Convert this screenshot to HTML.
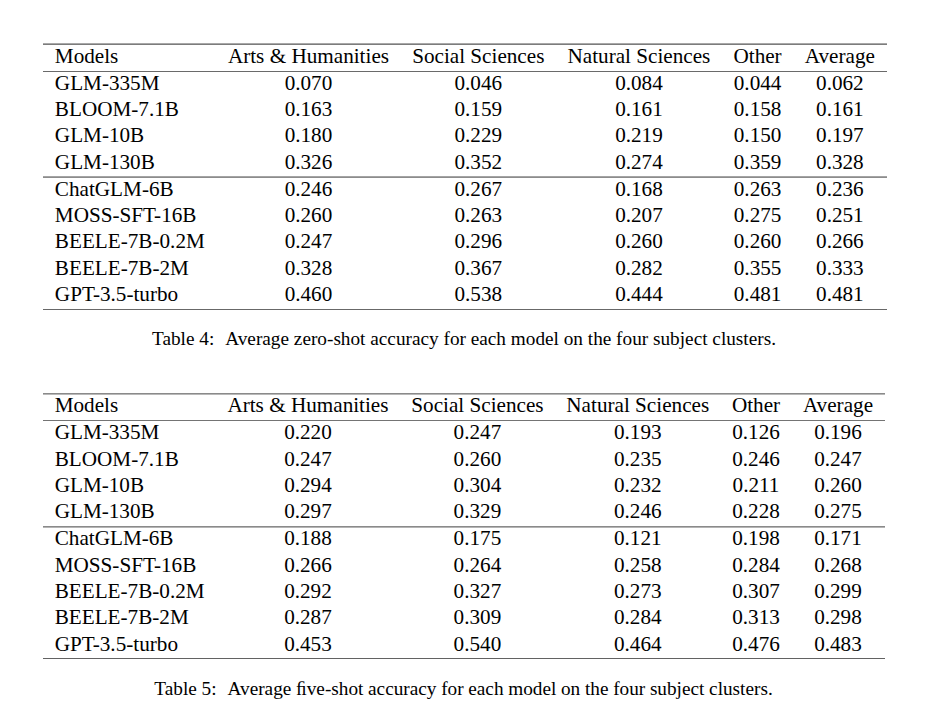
<!DOCTYPE html>
<html><head><meta charset="utf-8"><style>
html,body{margin:0;padding:0;background:#fff;}
body{width:925px;height:727px;position:relative;overflow:hidden;font-family:"Liberation Serif",serif;color:#000;}
.tb{position:absolute;height:727px;}
.rule{position:absolute;left:0;right:0;}
table{position:absolute;left:0;border-collapse:collapse;table-layout:fixed;font-size:21.18px;line-height:26px;white-space:nowrap;}
td{padding:0;text-align:center;}
td.c0{text-align:left;}
.cap{position:absolute;font-size:19.25px;white-space:pre;line-height:22px;}
</style></head><body>
<div class="tb" style="left:43.3px;top:0;width:843.2093749999999px">
<div class="rule" style="top:43px;height:1px;background:#a8a8a8"></div>
<div class="rule" style="top:44px;height:1px;background:#7c7c7c"></div>
<div class="rule" style="top:71px;height:1px;background:#6a6a6a"></div>
<div class="rule" style="top:176px;height:1px;background:#a4a4a4"></div>
<div class="rule" style="top:177px;height:1px;background:#8c8c8c"></div>
<div class="rule" style="top:309px;height:1px;background:#686868"></div>
<table style="top:43.00px;width:843.209px"><colgroup><col style="width:173.053px"><col style="width:184.241px"><col style="width:155.397px"><col style="width:165.959px"><col style="width:71.319px"><col style="width:93.241px"></colgroup><tr><td class="c0" style="padding:0 11.55px">Models</td><td class="c1" style="padding:0 11.55px">Arts &amp; Humanities</td><td class="c2" style="padding:0 11.55px">Social Sciences</td><td class="c3" style="padding:0 11.55px">Natural Sciences</td><td class="c4" style="padding:0 11.55px">Other</td><td class="c5" style="padding:0 11.55px">Average</td></tr></table>
<table style="top:70.00px;width:843.209px"><colgroup><col style="width:173.053px"><col style="width:184.241px"><col style="width:155.397px"><col style="width:165.959px"><col style="width:71.319px"><col style="width:93.241px"></colgroup><tr><td class="c0" style="padding:0 11.55px">GLM-335M</td><td class="c1" style="padding:0 11.55px">0.070</td><td class="c2" style="padding:0 11.55px">0.046</td><td class="c3" style="padding:0 11.55px">0.084</td><td class="c4" style="padding:0 11.55px">0.044</td><td class="c5" style="padding:0 11.55px">0.062</td></tr></table>
<table style="top:96.00px;width:843.209px"><colgroup><col style="width:173.053px"><col style="width:184.241px"><col style="width:155.397px"><col style="width:165.959px"><col style="width:71.319px"><col style="width:93.241px"></colgroup><tr><td class="c0" style="padding:0 11.55px">BLOOM-7.1B</td><td class="c1" style="padding:0 11.55px">0.163</td><td class="c2" style="padding:0 11.55px">0.159</td><td class="c3" style="padding:0 11.55px">0.161</td><td class="c4" style="padding:0 11.55px">0.158</td><td class="c5" style="padding:0 11.55px">0.161</td></tr></table>
<table style="top:122.00px;width:843.209px"><colgroup><col style="width:173.053px"><col style="width:184.241px"><col style="width:155.397px"><col style="width:165.959px"><col style="width:71.319px"><col style="width:93.241px"></colgroup><tr><td class="c0" style="padding:0 11.55px">GLM-10B</td><td class="c1" style="padding:0 11.55px">0.180</td><td class="c2" style="padding:0 11.55px">0.229</td><td class="c3" style="padding:0 11.55px">0.219</td><td class="c4" style="padding:0 11.55px">0.150</td><td class="c5" style="padding:0 11.55px">0.197</td></tr></table>
<table style="top:149.00px;width:843.209px"><colgroup><col style="width:173.053px"><col style="width:184.241px"><col style="width:155.397px"><col style="width:165.959px"><col style="width:71.319px"><col style="width:93.241px"></colgroup><tr><td class="c0" style="padding:0 11.55px">GLM-130B</td><td class="c1" style="padding:0 11.55px">0.326</td><td class="c2" style="padding:0 11.55px">0.352</td><td class="c3" style="padding:0 11.55px">0.274</td><td class="c4" style="padding:0 11.55px">0.359</td><td class="c5" style="padding:0 11.55px">0.328</td></tr></table>
<table style="top:176.00px;width:843.209px"><colgroup><col style="width:173.053px"><col style="width:184.241px"><col style="width:155.397px"><col style="width:165.959px"><col style="width:71.319px"><col style="width:93.241px"></colgroup><tr><td class="c0" style="padding:0 11.55px">ChatGLM-6B</td><td class="c1" style="padding:0 11.55px">0.246</td><td class="c2" style="padding:0 11.55px">0.267</td><td class="c3" style="padding:0 11.55px">0.168</td><td class="c4" style="padding:0 11.55px">0.263</td><td class="c5" style="padding:0 11.55px">0.236</td></tr></table>
<table style="top:202.00px;width:843.209px"><colgroup><col style="width:173.053px"><col style="width:184.241px"><col style="width:155.397px"><col style="width:165.959px"><col style="width:71.319px"><col style="width:93.241px"></colgroup><tr><td class="c0" style="padding:0 11.55px">MOSS-SFT-16B</td><td class="c1" style="padding:0 11.55px">0.260</td><td class="c2" style="padding:0 11.55px">0.263</td><td class="c3" style="padding:0 11.55px">0.207</td><td class="c4" style="padding:0 11.55px">0.275</td><td class="c5" style="padding:0 11.55px">0.251</td></tr></table>
<table style="top:228.00px;width:843.209px"><colgroup><col style="width:173.053px"><col style="width:184.241px"><col style="width:155.397px"><col style="width:165.959px"><col style="width:71.319px"><col style="width:93.241px"></colgroup><tr><td class="c0" style="padding:0 11.55px">BEELE-7B-0.2M</td><td class="c1" style="padding:0 11.55px">0.247</td><td class="c2" style="padding:0 11.55px">0.296</td><td class="c3" style="padding:0 11.55px">0.260</td><td class="c4" style="padding:0 11.55px">0.260</td><td class="c5" style="padding:0 11.55px">0.266</td></tr></table>
<table style="top:255.00px;width:843.209px"><colgroup><col style="width:173.053px"><col style="width:184.241px"><col style="width:155.397px"><col style="width:165.959px"><col style="width:71.319px"><col style="width:93.241px"></colgroup><tr><td class="c0" style="padding:0 11.55px">BEELE-7B-2M</td><td class="c1" style="padding:0 11.55px">0.328</td><td class="c2" style="padding:0 11.55px">0.367</td><td class="c3" style="padding:0 11.55px">0.282</td><td class="c4" style="padding:0 11.55px">0.355</td><td class="c5" style="padding:0 11.55px">0.333</td></tr></table>
<table style="top:281.00px;width:843.209px"><colgroup><col style="width:173.053px"><col style="width:184.241px"><col style="width:155.397px"><col style="width:165.959px"><col style="width:71.319px"><col style="width:93.241px"></colgroup><tr><td class="c0" style="padding:0 11.55px">GPT-3.5-turbo</td><td class="c1" style="padding:0 11.55px">0.460</td><td class="c2" style="padding:0 11.55px">0.538</td><td class="c3" style="padding:0 11.55px">0.444</td><td class="c4" style="padding:0 11.55px">0.481</td><td class="c5" style="padding:0 11.55px">0.481</td></tr></table>
</div>
<div class="tb" style="left:43.3px;top:0;width:841.2093749999999px">
<div class="rule" style="top:393px;height:1px;background:#8a8a8a"></div>
<div class="rule" style="top:394px;height:1px;background:#b8b8b8"></div>
<div class="rule" style="top:420px;height:1px;background:#747474"></div>
<div class="rule" style="top:526px;height:1px;background:#8a8a8a"></div>
<div class="rule" style="top:527px;height:1px;background:#b4b4b4"></div>
<div class="rule" style="top:658px;height:1px;background:#626262"></div>
<table style="top:392.00px;width:841.169px"><colgroup><col style="width:172.713px"><col style="width:183.901px"><col style="width:155.057px"><col style="width:165.619px"><col style="width:70.979px"><col style="width:92.901px"></colgroup><tr><td class="c0" style="padding:0 11.38px">Models</td><td class="c1" style="padding:0 11.38px">Arts &amp; Humanities</td><td class="c2" style="padding:0 11.38px">Social Sciences</td><td class="c3" style="padding:0 11.38px">Natural Sciences</td><td class="c4" style="padding:0 11.38px">Other</td><td class="c5" style="padding:0 11.38px">Average</td></tr></table>
<table style="top:419.00px;width:841.169px"><colgroup><col style="width:172.713px"><col style="width:183.901px"><col style="width:155.057px"><col style="width:165.619px"><col style="width:70.979px"><col style="width:92.901px"></colgroup><tr><td class="c0" style="padding:0 11.38px">GLM-335M</td><td class="c1" style="padding:0 11.38px">0.220</td><td class="c2" style="padding:0 11.38px">0.247</td><td class="c3" style="padding:0 11.38px">0.193</td><td class="c4" style="padding:0 11.38px">0.126</td><td class="c5" style="padding:0 11.38px">0.196</td></tr></table>
<table style="top:446.00px;width:841.169px"><colgroup><col style="width:172.713px"><col style="width:183.901px"><col style="width:155.057px"><col style="width:165.619px"><col style="width:70.979px"><col style="width:92.901px"></colgroup><tr><td class="c0" style="padding:0 11.38px">BLOOM-7.1B</td><td class="c1" style="padding:0 11.38px">0.247</td><td class="c2" style="padding:0 11.38px">0.260</td><td class="c3" style="padding:0 11.38px">0.235</td><td class="c4" style="padding:0 11.38px">0.246</td><td class="c5" style="padding:0 11.38px">0.247</td></tr></table>
<table style="top:472.00px;width:841.169px"><colgroup><col style="width:172.713px"><col style="width:183.901px"><col style="width:155.057px"><col style="width:165.619px"><col style="width:70.979px"><col style="width:92.901px"></colgroup><tr><td class="c0" style="padding:0 11.38px">GLM-10B</td><td class="c1" style="padding:0 11.38px">0.294</td><td class="c2" style="padding:0 11.38px">0.304</td><td class="c3" style="padding:0 11.38px">0.232</td><td class="c4" style="padding:0 11.38px">0.211</td><td class="c5" style="padding:0 11.38px">0.260</td></tr></table>
<table style="top:498.00px;width:841.169px"><colgroup><col style="width:172.713px"><col style="width:183.901px"><col style="width:155.057px"><col style="width:165.619px"><col style="width:70.979px"><col style="width:92.901px"></colgroup><tr><td class="c0" style="padding:0 11.38px">GLM-130B</td><td class="c1" style="padding:0 11.38px">0.297</td><td class="c2" style="padding:0 11.38px">0.329</td><td class="c3" style="padding:0 11.38px">0.246</td><td class="c4" style="padding:0 11.38px">0.228</td><td class="c5" style="padding:0 11.38px">0.275</td></tr></table>
<table style="top:525.00px;width:841.169px"><colgroup><col style="width:172.713px"><col style="width:183.901px"><col style="width:155.057px"><col style="width:165.619px"><col style="width:70.979px"><col style="width:92.901px"></colgroup><tr><td class="c0" style="padding:0 11.38px">ChatGLM-6B</td><td class="c1" style="padding:0 11.38px">0.188</td><td class="c2" style="padding:0 11.38px">0.175</td><td class="c3" style="padding:0 11.38px">0.121</td><td class="c4" style="padding:0 11.38px">0.198</td><td class="c5" style="padding:0 11.38px">0.171</td></tr></table>
<table style="top:552.00px;width:841.169px"><colgroup><col style="width:172.713px"><col style="width:183.901px"><col style="width:155.057px"><col style="width:165.619px"><col style="width:70.979px"><col style="width:92.901px"></colgroup><tr><td class="c0" style="padding:0 11.38px">MOSS-SFT-16B</td><td class="c1" style="padding:0 11.38px">0.266</td><td class="c2" style="padding:0 11.38px">0.264</td><td class="c3" style="padding:0 11.38px">0.258</td><td class="c4" style="padding:0 11.38px">0.284</td><td class="c5" style="padding:0 11.38px">0.268</td></tr></table>
<table style="top:578.00px;width:841.169px"><colgroup><col style="width:172.713px"><col style="width:183.901px"><col style="width:155.057px"><col style="width:165.619px"><col style="width:70.979px"><col style="width:92.901px"></colgroup><tr><td class="c0" style="padding:0 11.38px">BEELE-7B-0.2M</td><td class="c1" style="padding:0 11.38px">0.292</td><td class="c2" style="padding:0 11.38px">0.327</td><td class="c3" style="padding:0 11.38px">0.273</td><td class="c4" style="padding:0 11.38px">0.307</td><td class="c5" style="padding:0 11.38px">0.299</td></tr></table>
<table style="top:604.00px;width:841.169px"><colgroup><col style="width:172.713px"><col style="width:183.901px"><col style="width:155.057px"><col style="width:165.619px"><col style="width:70.979px"><col style="width:92.901px"></colgroup><tr><td class="c0" style="padding:0 11.38px">BEELE-7B-2M</td><td class="c1" style="padding:0 11.38px">0.287</td><td class="c2" style="padding:0 11.38px">0.309</td><td class="c3" style="padding:0 11.38px">0.284</td><td class="c4" style="padding:0 11.38px">0.313</td><td class="c5" style="padding:0 11.38px">0.298</td></tr></table>
<table style="top:631.00px;width:841.169px"><colgroup><col style="width:172.713px"><col style="width:183.901px"><col style="width:155.057px"><col style="width:165.619px"><col style="width:70.979px"><col style="width:92.901px"></colgroup><tr><td class="c0" style="padding:0 11.38px">GPT-3.5-turbo</td><td class="c1" style="padding:0 11.38px">0.453</td><td class="c2" style="padding:0 11.38px">0.540</td><td class="c3" style="padding:0 11.38px">0.464</td><td class="c4" style="padding:0 11.38px">0.476</td><td class="c5" style="padding:0 11.38px">0.483</td></tr></table>
</div>
<div class="cap" style="left:152px;top:328.4px">Table 4:<span style="display:inline-block;width:11px"></span>Average zero-shot accuracy for each model on the four subject clusters.</div>
<div class="cap" style="left:154.3px;top:678.2px">Table 5:<span style="display:inline-block;width:11px"></span><span style="word-spacing:-0.13px">Average &#xFB01;ve-shot accuracy for each model on the four subject clusters.</span></div>
</body></html>
